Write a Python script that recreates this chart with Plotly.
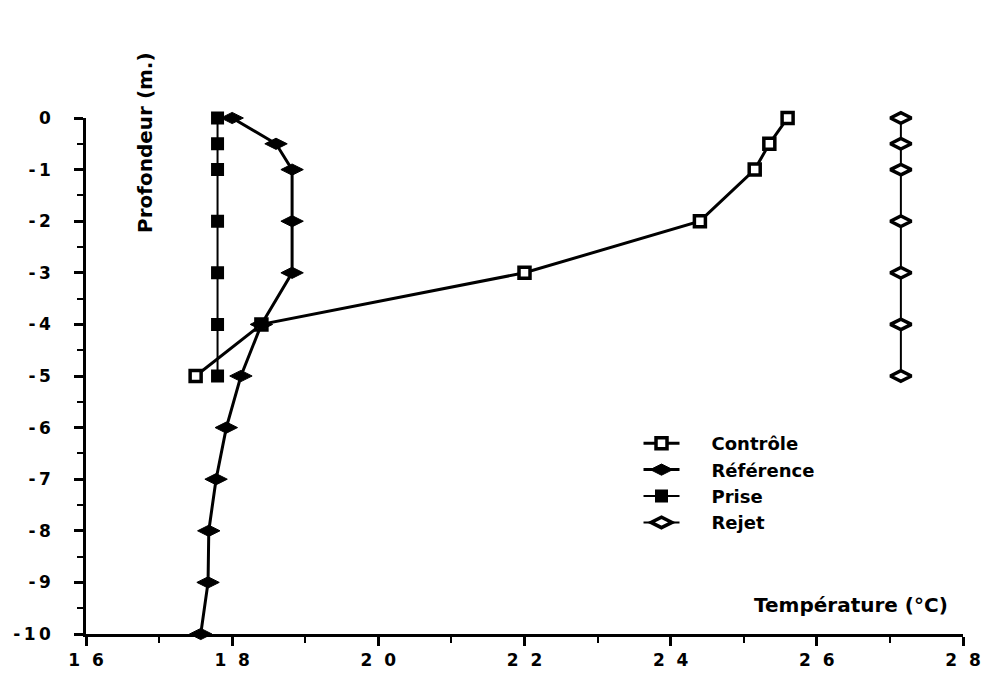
import plotly.graph_objects as go

# Depth profiles of water temperature
depth_short = [0, -0.5, -1, -2, -3, -4, -5]
depth_long = [0, -0.5, -1, -2, -3, -4, -5, -6, -7, -8, -9, -10]

temp_controle = [25.6, 25.35, 25.15, 24.4, 22.0, 18.4, 17.5]
temp_reference = [18.0, 18.6, 18.82, 18.82, 18.82, 18.4, 18.12, 17.92, 17.78, 17.68, 17.67, 17.57]
temp_prise = [17.8, 17.8, 17.8, 17.8, 17.8, 17.8, 17.8]
temp_rejet = [27.15, 27.15, 27.15, 27.15, 27.15, 27.15, 27.15]

x_ticks = [16, 18, 20, 22, 24, 26, 28]
y_ticks = [0, -1, -2, -3, -4, -5, -6, -7, -8, -9, -10]

FONT = "DejaVu Sans, Liberation Sans, sans-serif"
FS = "\u2007"   # figure space: wide gap between digits
PAD = "\u2003\u2002"  # gap between legend symbol and label


def spaced_x(v):
    return FS.join(str(v))


def spaced_y(v):
    s = str(abs(v))
    if v == 0:
        return s
    if len(s) > 1:
        return "-\u2009" + "\u2009".join(s)
    return "-\u2009" + s


fig = go.Figure()

fig.add_trace(go.Scatter(
    x=temp_controle, y=depth_short, name=PAD + "Contrôle", mode="lines+markers",
    line=dict(color="black", width=3), cliponaxis=False,
    marker=dict(symbol="square", size=11, color="white",
                line=dict(color="black", width=3.5)),
))
fig.add_trace(go.Scatter(
    x=temp_reference, y=depth_long, name=PAD + "Référence", mode="lines+markers",
    line=dict(color="black", width=3), cliponaxis=False,
    marker=dict(symbol="diamond-wide", size=16, color="black",
                line=dict(color="black", width=1)),
))
fig.add_trace(go.Scatter(
    x=temp_prise, y=depth_short, name=PAD + "Prise", mode="lines+markers",
    line=dict(color="black", width=2), cliponaxis=False,
    marker=dict(symbol="square", size=11, color="black",
                line=dict(color="black", width=2)),
))
fig.add_trace(go.Scatter(
    x=temp_rejet, y=depth_short, name=PAD + "Rejet", mode="lines+markers",
    line=dict(color="black", width=2), cliponaxis=False,
    marker=dict(symbol="diamond-wide", size=15, color="white",
                line=dict(color="black", width=3.5)),
))

fig.update_layout(
    width=982, height=675,
    margin=dict(l=86, r=19, t=118, b=41, autoexpand=False),
    paper_bgcolor="white", plot_bgcolor="white",
    font=dict(family=FONT, size=17, color="black", weight="bold"),
    showlegend=True,
    legend=dict(
        x=0.63, y=0.405, xanchor="left", yanchor="top",
        bgcolor="rgba(0,0,0,0)",
        font=dict(family=FONT, size=18, color="black", weight="bold"),
        itemwidth=36, tracegroupgap=0,
    ),
    xaxis=dict(
        range=[16, 28], tickvals=x_ticks, ticktext=[spaced_x(v) for v in x_ticks],
        automargin=False,
        showgrid=False, zeroline=False, showline=True, linecolor="black", linewidth=2.5,
        ticks="outside", ticklen=9, tickwidth=2.5, tickcolor="black",
        minor=dict(dtick=1, ticks="outside", ticklen=6, tickwidth=2, tickcolor="black"),
        tickfont=dict(family=FONT, size=17, color="black", weight="bold"),
    ),
    yaxis=dict(
        range=[-10, 0], tickvals=y_ticks, ticktext=[spaced_y(v) for v in y_ticks],
        automargin=False,
        showgrid=False, zeroline=False, showline=True, linecolor="black", linewidth=2.5,
        ticks="outside", ticklen=9, tickwidth=2.5, tickcolor="black",
        ticklabelstandoff=20,
        minor=dict(dtick=0.5, ticks="outside", ticklen=6, tickwidth=2, tickcolor="black"),
        tickfont=dict(family=FONT, size=17, color="black", weight="bold"),
    ),
    annotations=[
        dict(text="Profondeur (m.)", xref="paper", yref="paper", x=0.067, y=0.953,
             xanchor="center", yanchor="middle", textangle=-90, showarrow=False,
             font=dict(family=FONT, size=20, color="black", weight="bold")),
        dict(text="Température (°C)", xref="paper", yref="paper", x=0.985, y=0.056,
             xanchor="right", yanchor="middle", showarrow=False,
             font=dict(family=FONT, size=20, color="black", weight="bold")),
    ],
)

fig.write_html("out.html")
